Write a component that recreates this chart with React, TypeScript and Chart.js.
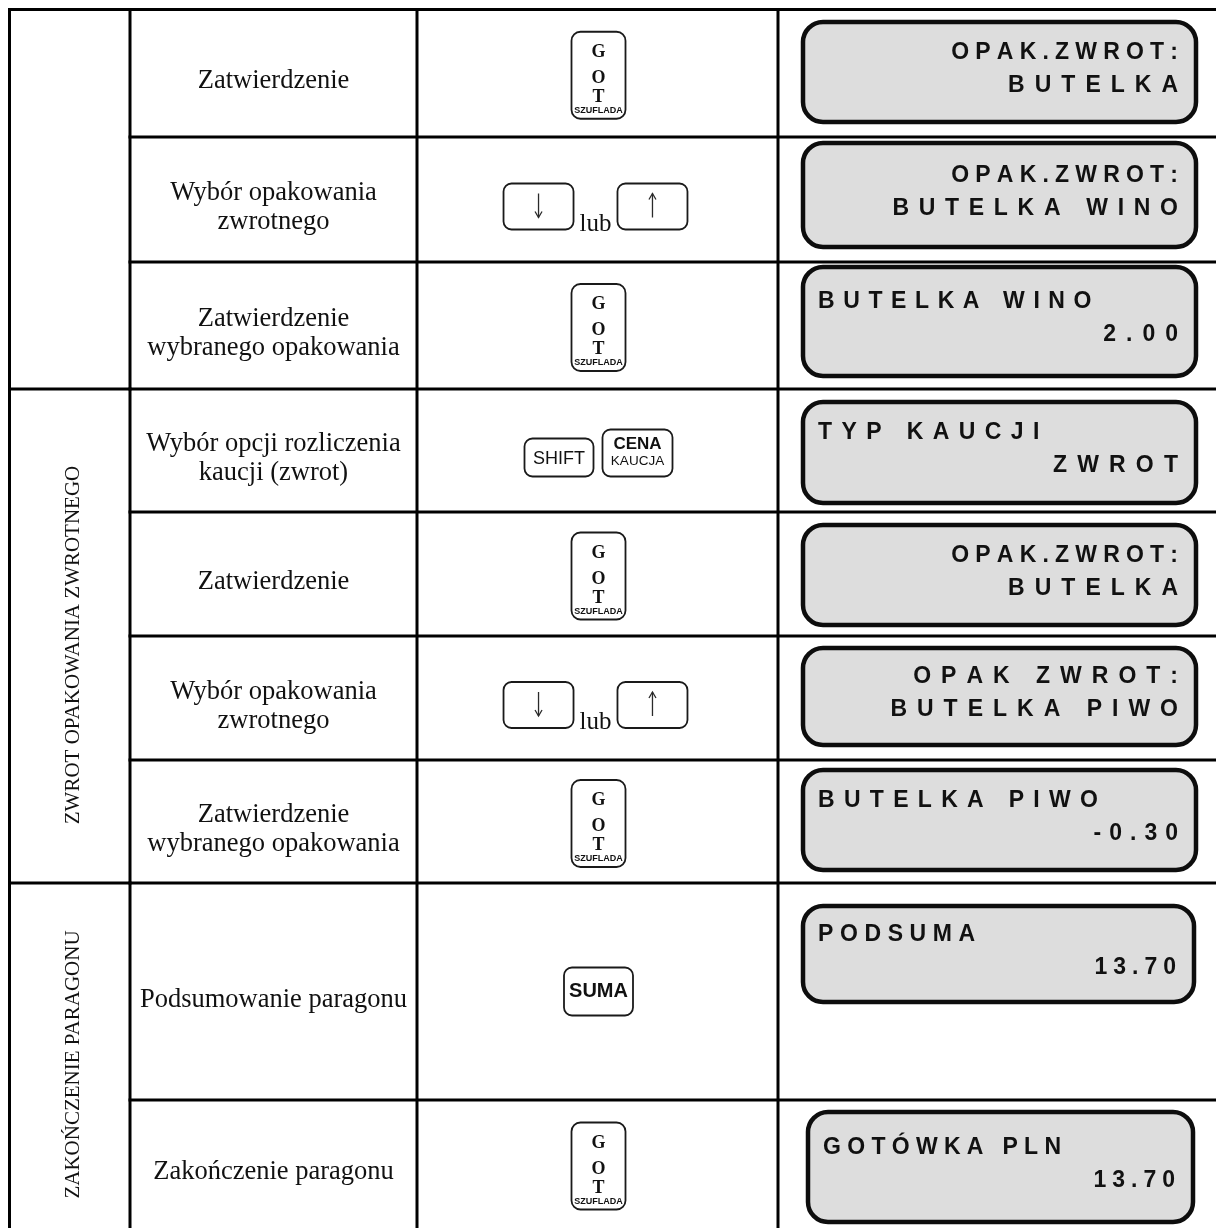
import React, { useEffect, useRef } from "react";
import { Chart, registerables } from "chart.js";

Chart.register(...registerables);

// ---------------- data ----------------
const GROUP_LABELS = ["", "ZWROT OPAKOWANIA ZWROTNEGO", "ZAKOŃCZENIE PARAGONU"];
const GROUP_ROW_COUNTS = [3, 4, 2];

const STEP_LABELS: string[][] = [
  ["Zatwierdzenie"],
  ["Wybór opakowania", "zwrotnego"],
  ["Zatwierdzenie", "wybranego opakowania"],
  ["Wybór opcji rozliczenia", "kaucji (zwrot)"],
  ["Zatwierdzenie"],
  ["Wybór opakowania", "zwrotnego"],
  ["Zatwierdzenie", "wybranego opakowania"],
  ["Podsumowanie paragonu"],
  ["Zakończenie paragonu"],
];

const STEP_KEYS = ["GOT", "ARROWS", "GOT", "SHIFT_CENA", "GOT", "ARROWS", "GOT", "SUMA", "GOT"];

const DISPLAY_LINE_1 = [
  "OPAK.ZWROT:",
  "OPAK.ZWROT:",
  "BUTELKA WINO",
  "TYP KAUCJI",
  "OPAK.ZWROT:",
  "OPAK ZWROT:",
  "BUTELKA PIWO",
  "PODSUMA",
  "GOTÓWKA PLN",
];
const DISPLAY_LINE_1_ALIGN = ["right", "right", "left", "left", "right", "right", "left", "left", "left"];
const DISPLAY_LINE_2 = [
  "BUTELKA",
  "BUTELKA WINO",
  "2.00",
  "ZWROT",
  "BUTELKA",
  "BUTELKA PIWO",
  "-0.30",
  "13.70",
  "13.70",
];

const KEY_GOT_LETTERS = ["G", "O", "T"];
const KEY_GOT_CAPTION = "SZUFLADA";
const KEY_ARROW_JOIN = "lub";
const KEY_SHIFT = "SHIFT";
const KEY_CENA = ["CENA", "KAUCJA"];
const KEY_SUMA = "SUMA";

// ---------------- layout / style ----------------
const CANVAS_W = 1216;
const CANVAS_H = 1228;
const ROW_EDGES = [9.5, 137, 262, 389, 512, 636, 760, 883, 1100, 1300];
const COL_EDGES = [9.5, 130, 417, 778];
const TABLE_RIGHT = 1300;
const BOX_TOPS = [22, 143, 267, 402, 525, 648, 770, 906, 1112];
const BOX_BOTTOMS = [122, 247, 376, 503, 625, 745, 870, 1002, 1222];
const BOX_LEFTS = [803, 803, 803, 803, 803, 803, 803, 803, 808];
const BOX_RIGHTS = [1196, 1196, 1196, 1196, 1196, 1196, 1196, 1194, 1193];
const LINE_1_SPACING = [6.2, 6.2, 8.6, 9.4, 6.2, 10, 9.3, 6.6, 6.3];
const LINE_2_SPACING = [10, 9.7, 10, 10.2, 10, 10, 8, 6, 6];

const SERIF = "'Liberation Serif', 'Times New Roman', serif";
const SANS = "'Liberation Sans', Arial, sans-serif";
const INK = "#111111";

type Px = (v: number) => number;

function roundRectPath(ctx: CanvasRenderingContext2D, x: number, y: number, w: number, h: number, r: number) {
  const rr = Math.min(r, w / 2, h / 2);
  ctx.beginPath();
  ctx.moveTo(x + rr, y);
  ctx.lineTo(x + w - rr, y);
  ctx.arcTo(x + w, y, x + w, y + rr, rr);
  ctx.lineTo(x + w, y + h - rr);
  ctx.arcTo(x + w, y + h, x + w - rr, y + h, rr);
  ctx.lineTo(x + rr, y + h);
  ctx.arcTo(x, y + h, x, y + h - rr, rr);
  ctx.lineTo(x, y + rr);
  ctx.arcTo(x, y, x + rr, y, rr);
  ctx.closePath();
}

function spacedWidth(ctx: CanvasRenderingContext2D, text: string, sp: number) {
  const chars = Array.from(text);
  let w = 0;
  for (const ch of chars) w += ctx.measureText(ch).width;
  return w + sp * (chars.length - 1);
}

function drawSpaced(ctx: CanvasRenderingContext2D, text: string, x: number, y: number, sp: number, align: string) {
  const chars = Array.from(text);
  let cx = align === "right" ? x - spacedWidth(ctx, text, sp) : x;
  ctx.textAlign = "left";
  for (const ch of chars) {
    ctx.fillText(ch, cx, y);
    cx += ctx.measureText(ch).width + sp;
  }
}

function drawKeyBox(ctx: CanvasRenderingContext2D, x: number, y: number, w: number, h: number, r: number) {
  roundRectPath(ctx, x, y, w, h, r);
  ctx.fillStyle = "#ffffff";
  ctx.fill();
  ctx.lineWidth = 1.8;
  ctx.strokeStyle = "#1a1a1a";
  ctx.stroke();
}

function drawArrow(ctx: CanvasRenderingContext2D, cx: number, top: number, bottom: number, down: boolean) {
  ctx.strokeStyle = "#2a2a2a";
  ctx.lineWidth = 1.3;
  ctx.beginPath();
  ctx.moveTo(cx, top);
  ctx.lineTo(cx, bottom);
  ctx.stroke();
  ctx.beginPath();
  if (down) {
    ctx.moveTo(cx - 3.5, bottom - 6);
    ctx.lineTo(cx, bottom);
    ctx.lineTo(cx + 3.5, bottom - 6);
  } else {
    ctx.moveTo(cx - 3.5, top + 6);
    ctx.lineTo(cx, top);
    ctx.lineTo(cx + 3.5, top + 6);
  }
  ctx.stroke();
}

const tablePlugin = {
  id: "tablePlugin",
  beforeDraw(chart: any) {
    const ctx: CanvasRenderingContext2D = chart.ctx;
    ctx.save();
    ctx.fillStyle = "#ffffff";
    ctx.fillRect(0, 0, chart.width, chart.height);
    ctx.restore();
  },
  afterDraw(chart: any) {
    const ctx: CanvasRenderingContext2D = chart.ctx;
    const px: Px = (v) => chart.scales.x.getPixelForValue(v);
    const py: Px = (v) => chart.scales.y.getPixelForValue(v);
    ctx.save();

    const nRows = STEP_LABELS.length;
    const colMid = (a: number, b: number) => (COL_EDGES[a] + (b < COL_EDGES.length ? COL_EDGES[b] : TABLE_RIGHT)) / 2;

    // ---- column 2: step descriptions ----
    ctx.fillStyle = INK;
    ctx.font = `26.5px ${SERIF}`;
    ctx.textAlign = "center";
    ctx.textBaseline = "alphabetic";
    for (let i = 0; i < nRows; i++) {
      const rc = (ROW_EDGES[i] + ROW_EDGES[i + 1]) / 2;
      const cy = i === nRows - 1 ? (ROW_EDGES[i] + 1228) / 2 : rc;
      const lines = STEP_LABELS[i];
      const n = lines.length;
      lines.forEach((t, k) => {
        const by = cy + 15 + (k - (n - 1) / 2) * 29;
        ctx.fillText(t, px(colMid(1, 2)), py(by));
      });
    }

    // ---- column 1: group labels (vertical) ----
    ctx.font = `21px ${SERIF}`;
    let r0 = 0;
    GROUP_ROW_COUNTS.forEach((cnt, g) => {
      const top = ROW_EDGES[r0];
      const bot = Math.min(ROW_EDGES[r0 + cnt], 1228);
      const label = GROUP_LABELS[g];
      if (label) {
        ctx.save();
        ctx.translate(px(79), py((top + bot) / 2 + 9));
        ctx.rotate(-Math.PI / 2);
        ctx.textAlign = "center";
        ctx.fillText(label, 0, 0);
        ctx.restore();
      }
      r0 += cnt;
    });

    // ---- column 3: keys ----
    const kx = colMid(2, 3) + 1;
    for (let i = 0; i < nRows; i++) {
      const rc = i === nRows - 1 ? (ROW_EDGES[i] + 1228) / 2 : (ROW_EDGES[i] + ROW_EDGES[i + 1]) / 2;
      const key = STEP_KEYS[i];
      if (key === "GOT") {
        const w = 54, h = 87;
        const x = px(kx - w / 2), y = py(rc + 2 - h / 2);
        drawKeyBox(ctx, x, y, w, h, 9);
        ctx.fillStyle = INK;
        ctx.textAlign = "center";
        ctx.font = `bold 18px ${SERIF}`;
        const bl = [25, 51, 70];
        KEY_GOT_LETTERS.forEach((ch, k) => ctx.fillText(ch, px(kx), y + bl[k]));
        ctx.font = `bold 9px ${SANS}`;
        ctx.fillText(KEY_GOT_CAPTION, px(kx), y + 81);
      } else if (key === "ARROWS") {
        const w = 70, h = 46, gap = 6;
        ctx.font = `25px ${SERIF}`;
        const lubW = ctx.measureText(KEY_ARROW_JOIN).width;
        const total = w * 2 + gap * 2 + lubW;
        const x0 = kx - 3 - total / 2;
        const top = rc + 7 - h / 2;
        drawKeyBox(ctx, px(x0), py(top), w, h, 8);
        drawKeyBox(ctx, px(x0 + w + gap * 2 + lubW), py(top), w, h, 8);
        drawArrow(ctx, px(x0 + w / 2), py(top + 10), py(top + 34), true);
        drawArrow(ctx, px(x0 + w * 1.5 + gap * 2 + lubW), py(top + 10), py(top + 34), false);
        ctx.fillStyle = INK;
        ctx.textAlign = "left";
        ctx.font = `25px ${SERIF}`;
        ctx.fillText(KEY_ARROW_JOIN, px(x0 + w + gap), py(top + h + 1));
      } else if (key === "SHIFT_CENA") {
        const bottom = rc + 26;
        const sw = 69, sh = 38, cw = 70, ch = 47, gap = 9;
        const x0 = kx - (sw + gap + cw) / 2;
        drawKeyBox(ctx, px(x0), py(bottom - sh), sw, sh, 8);
        drawKeyBox(ctx, px(x0 + sw + gap), py(bottom - ch), cw, ch, 8);
        ctx.fillStyle = INK;
        ctx.textAlign = "center";
        ctx.font = `18px ${SANS}`;
        ctx.fillText(KEY_SHIFT, px(x0 + sw / 2), py(bottom - sh + 25));
        ctx.font = `bold 17px ${SANS}`;
        ctx.fillText(KEY_CENA[0], px(x0 + sw + gap + cw / 2), py(bottom - ch + 19));
        ctx.font = `13.5px ${SANS}`;
        ctx.fillText(KEY_CENA[1], px(x0 + sw + gap + cw / 2), py(bottom - ch + 35));
      } else if (key === "SUMA") {
        const w = 69, h = 48;
        const x = kx - w / 2, top = rc - h / 2;
        drawKeyBox(ctx, px(x), py(top), w, h, 8);
        ctx.fillStyle = INK;
        ctx.textAlign = "center";
        ctx.font = `bold 20px ${SANS}`;
        ctx.fillText(KEY_SUMA, px(kx), py(top + 29));
      }
    }

    // ---- column 4: display boxes ----
    for (let i = 0; i < nRows; i++) {
      const x = px(BOX_LEFTS[i]);
      const y = py(BOX_TOPS[i]);
      const w = px(BOX_RIGHTS[i]) - x;
      const h = py(BOX_BOTTOMS[i]) - y;
      roundRectPath(ctx, x, y, w, h, 20);
      ctx.fillStyle = "#dddddd";
      ctx.fill();
      ctx.lineWidth = 4.5;
      ctx.strokeStyle = "#0d0d0d";
      ctx.stroke();
      const bc = (BOX_TOPS[i] + BOX_BOTTOMS[i]) / 2;
      const leftX = BOX_LEFTS[i] + 15;
      const rightX = BOX_RIGHTS[i] - 18;
      ctx.fillStyle = INK;
      ctx.font = `bold 23px ${SANS}`;
      ctx.textBaseline = "alphabetic";
      const a1 = DISPLAY_LINE_1_ALIGN[i];
      drawSpaced(ctx, DISPLAY_LINE_1[i], px(a1 === "right" ? rightX : leftX), py(bc - 13.5), LINE_1_SPACING[i], a1);
      drawSpaced(ctx, DISPLAY_LINE_2[i], px(rightX), py(bc + 19.5), LINE_2_SPACING[i], "right");
    }

    // ---- grid lines ----
    ctx.strokeStyle = "#000000";
    ctx.lineWidth = 3;
    ctx.lineCap = "square";
    const hLine = (y: number, x1: number, x2: number) => {
      ctx.beginPath();
      ctx.moveTo(px(x1), py(y));
      ctx.lineTo(px(x2), py(y));
      ctx.stroke();
    };
    const vLine = (x: number, y1: number, y2: number) => {
      ctx.beginPath();
      ctx.moveTo(px(x), py(y1));
      ctx.lineTo(px(x), py(y2));
      ctx.stroke();
    };
    hLine(ROW_EDGES[0], COL_EDGES[0], TABLE_RIGHT);
    for (let i = 1; i < nRows; i++) hLine(ROW_EDGES[i], COL_EDGES[1], TABLE_RIGHT);
    let acc = 0;
    GROUP_ROW_COUNTS.forEach((cnt) => {
      acc += cnt;
      if (acc < nRows) hLine(ROW_EDGES[acc], COL_EDGES[0], COL_EDGES[1]);
    });
    COL_EDGES.forEach((cx) => vLine(cx, ROW_EDGES[0], ROW_EDGES[ROW_EDGES.length - 1]));

    ctx.restore();
  },
};

export default function App() {
  const canvasRef = useRef<HTMLCanvasElement | null>(null);

  useEffect(() => {
    const canvas = canvasRef.current;
    if (!canvas) return;
    const chart = new Chart(canvas, {
      type: "scatter",
      data: { datasets: [{ data: [], pointRadius: 0 }] },
      options: {
        animation: false,
        responsive: false,
        devicePixelRatio: 1,
        layout: { padding: 0 },
        plugins: { legend: { display: false }, tooltip: { enabled: false }, title: { display: false } },
        events: [],
        scales: {
          x: { type: "linear", min: 0, max: CANVAS_W, display: false },
          y: { type: "linear", min: 0, max: CANVAS_H, reverse: true, display: false },
        },
      },
      plugins: [tablePlugin],
    });
    return () => chart.destroy();
  }, []);

  return (
    <div style={{ position: "absolute", left: 0, top: 0, width: CANVAS_W, height: CANVAS_H, background: "#fff" }}>
      <canvas ref={canvasRef} width={CANVAS_W} height={CANVAS_H} style={{ display: "block" }} />
    </div>
  );
}
